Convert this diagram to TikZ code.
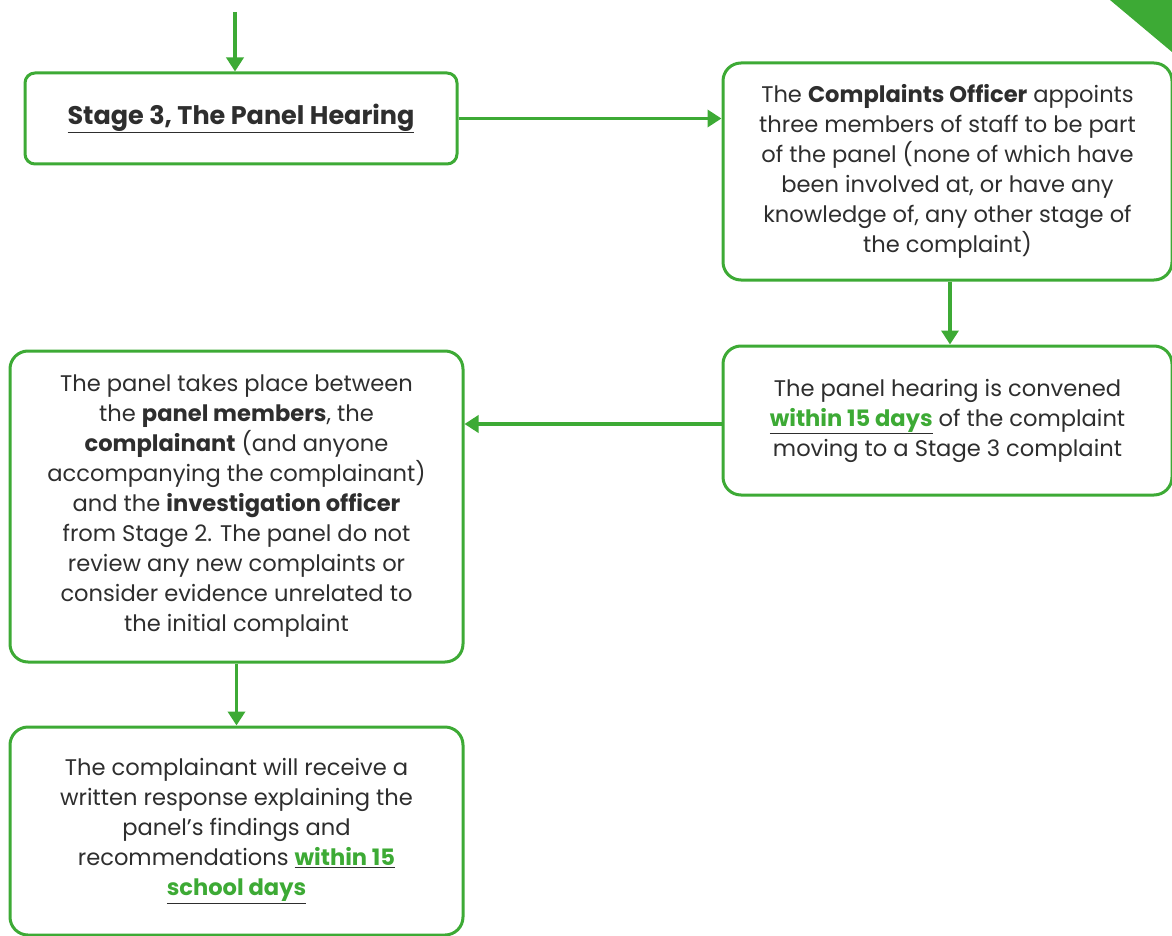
\documentclass[tikz,border=0pt]{standalone}
\usepackage{fontspec}
\setmainfont{Poppins}
\usetikzlibrary{arrows.meta}
\definecolor{grn}{HTML}{3DAA35}
\definecolor{txt}{HTML}{2E2E2E}
\newcommand{\gu}[1]{\underline{\textcolor{grn}{\textbf{#1}}}}
\begin{document}
\begin{tikzpicture}[x=1pt,y=-1pt,
  box/.style={draw=grn,line width=3pt,rounded corners=18pt,fill=white,
    align=center,text=txt,font=\fontsize{22.6}{30}\selectfont,inner sep=0pt},
  conn/.style={draw=grn,line width=3.5pt,-{Triangle[width=17pt,length=14pt]}}]
\useasboundingbox (0,0) rectangle (1172,936);
\fill[grn] (1110,0) -- (1172,0) -- (1172,52) -- cycle;
\coordinate (start) at (235,12);
\node[box,rounded corners=10pt,minimum width=432pt,minimum height=91pt,
  font=\fontsize{25.5}{30}\selectfont\bfseries] (s3) at (241,118.5)
  {\underline{Stage 3, The Panel Hearing}};
\node[box,minimum width=449pt,minimum height=217pt] (co) at (947.5,171.5)
  {The \textbf{Complaints Officer} appoints\\
   three members of staff to be part\\
   of the panel (none of which have\\
   been involved at, or have any\\
   knowledge of, any other stage of\\
   the complaint)};
\node[box,minimum width=449pt,minimum height=149pt] (ph) at (947.5,420.5)
  {The panel hearing is convened\\
   \gu{within 15 days} of the complaint\\
   moving to a Stage 3 complaint};
\node[box,minimum width=453pt,minimum height=311pt] (pt) at (236.5,506.5)
  {The panel takes place between\\
   the \textbf{panel members}, the\\
   \textbf{complainant} (and anyone\\
   accompanying the complainant)\\
   and the \textbf{investigation officer}\\
   from Stage 2. The panel do not\\
   review any new complaints or\\
   consider evidence unrelated to\\
   the initial complaint};
\node[box,minimum width=453pt,minimum height=208pt] (rs) at (236.5,831)
  {The complainant will receive a\\
   written response explaining the\\
   panel’s findings and\\
   recommendations \gu{within 15}\\
   \gu{school days}};
\draw[conn] (start) -- (s3.north -| start);
\draw[conn] (s3.east) -- (co.west |- s3.east);
\draw[conn] (co.south -| 950,0) -- (ph.north -| 950,0);
\draw[conn] (ph.west |- 0,424) -- (pt.east |- 0,424);
\draw[conn] (pt.south) -- (rs.north);
\end{tikzpicture}
\end{document}
